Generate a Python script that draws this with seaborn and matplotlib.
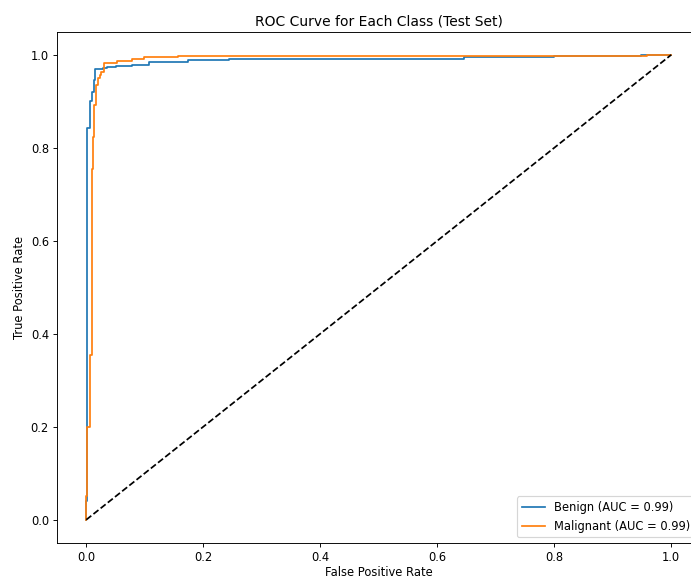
import matplotlib
matplotlib.use('Agg')
import matplotlib.pyplot as plt
import seaborn as sns
import numpy as np


# ROC points (corner points as returned by roc_curve)
benign_fpr = [0.0, 0.0, 0.002, 0.002, 0.007, 0.007, 0.0097, 0.0097, 0.0125, 0.0125,
              0.015, 0.015, 0.0285, 0.0285, 0.035, 0.035, 0.051, 0.051, 0.078, 0.078,
              0.108, 0.108, 0.174, 0.174, 0.244, 0.244, 0.645, 0.645, 0.80, 0.80,
              0.948, 0.948, 1.0]
benign_tpr = [0.0, 0.04, 0.04, 0.843, 0.843, 0.90, 0.90, 0.92, 0.92, 0.946,
              0.946, 0.969, 0.969, 0.971, 0.971, 0.974, 0.974, 0.976, 0.976, 0.979,
              0.979, 0.984, 0.984, 0.988, 0.988, 0.992, 0.992, 0.995, 0.995, 0.998,
              0.998, 1.0, 1.0]

malignant_fpr = [0.0, 0.0, 0.002, 0.002, 0.006, 0.006, 0.0103, 0.0103, 0.0114, 0.0114,
                 0.014, 0.014, 0.017, 0.017, 0.02, 0.02, 0.023, 0.023, 0.026, 0.026,
                 0.03, 0.03, 0.053, 0.053, 0.078, 0.078, 0.098, 0.098, 0.157, 0.157,
                 0.958, 0.958, 1.0]
malignant_tpr = [0.0, 0.05, 0.05, 0.2, 0.2, 0.355, 0.355, 0.755, 0.755, 0.824,
                 0.824, 0.892, 0.892, 0.935, 0.935, 0.95, 0.95, 0.957, 0.957, 0.964,
                 0.964, 0.982, 0.982, 0.987, 0.987, 0.991, 0.991, 0.995, 0.995, 0.998,
                 0.998, 1.0, 1.0]

class_names = ['Benign', 'Malignant']
auc_scores = [0.99, 0.99]
colors = ['#1f77b4', '#ff7f0e']

# the reference looks like a scaled-down render, so use a lower dpi
DPI = 83
fig = plt.figure(figsize=(691.4 / DPI, 577.4 / DPI), dpi=DPI)
# the reference is cut off on the right, so the axes run past the figure edge
ax = fig.add_axes([57/691, 34/577, 643/691, 511/577])

curves = [(benign_fpr, benign_tpr), (malignant_fpr, malignant_tpr)]
for (fpr, tpr), name, auc, c in zip(curves, class_names, auc_scores, colors):
    sns.lineplot(x=fpr, y=tpr, sort=False, estimator=None, color=c,
                 label=f'{name} (AUC = {auc:.2f})', ax=ax)

ax.plot([0, 1], [0, 1], 'k--')
ax.set_xlim(-0.05, 1.05)
ax.set_ylim(-0.05, 1.05)
ax.set_xlabel('False Positive Rate', labelpad=1.5)
ax.set_ylabel('True Positive Rate')
ax.set_title('ROC Curve for Each Class (Test Set)')
ax.legend(loc='lower right')

fig.savefig('out.png', dpi=DPI)
